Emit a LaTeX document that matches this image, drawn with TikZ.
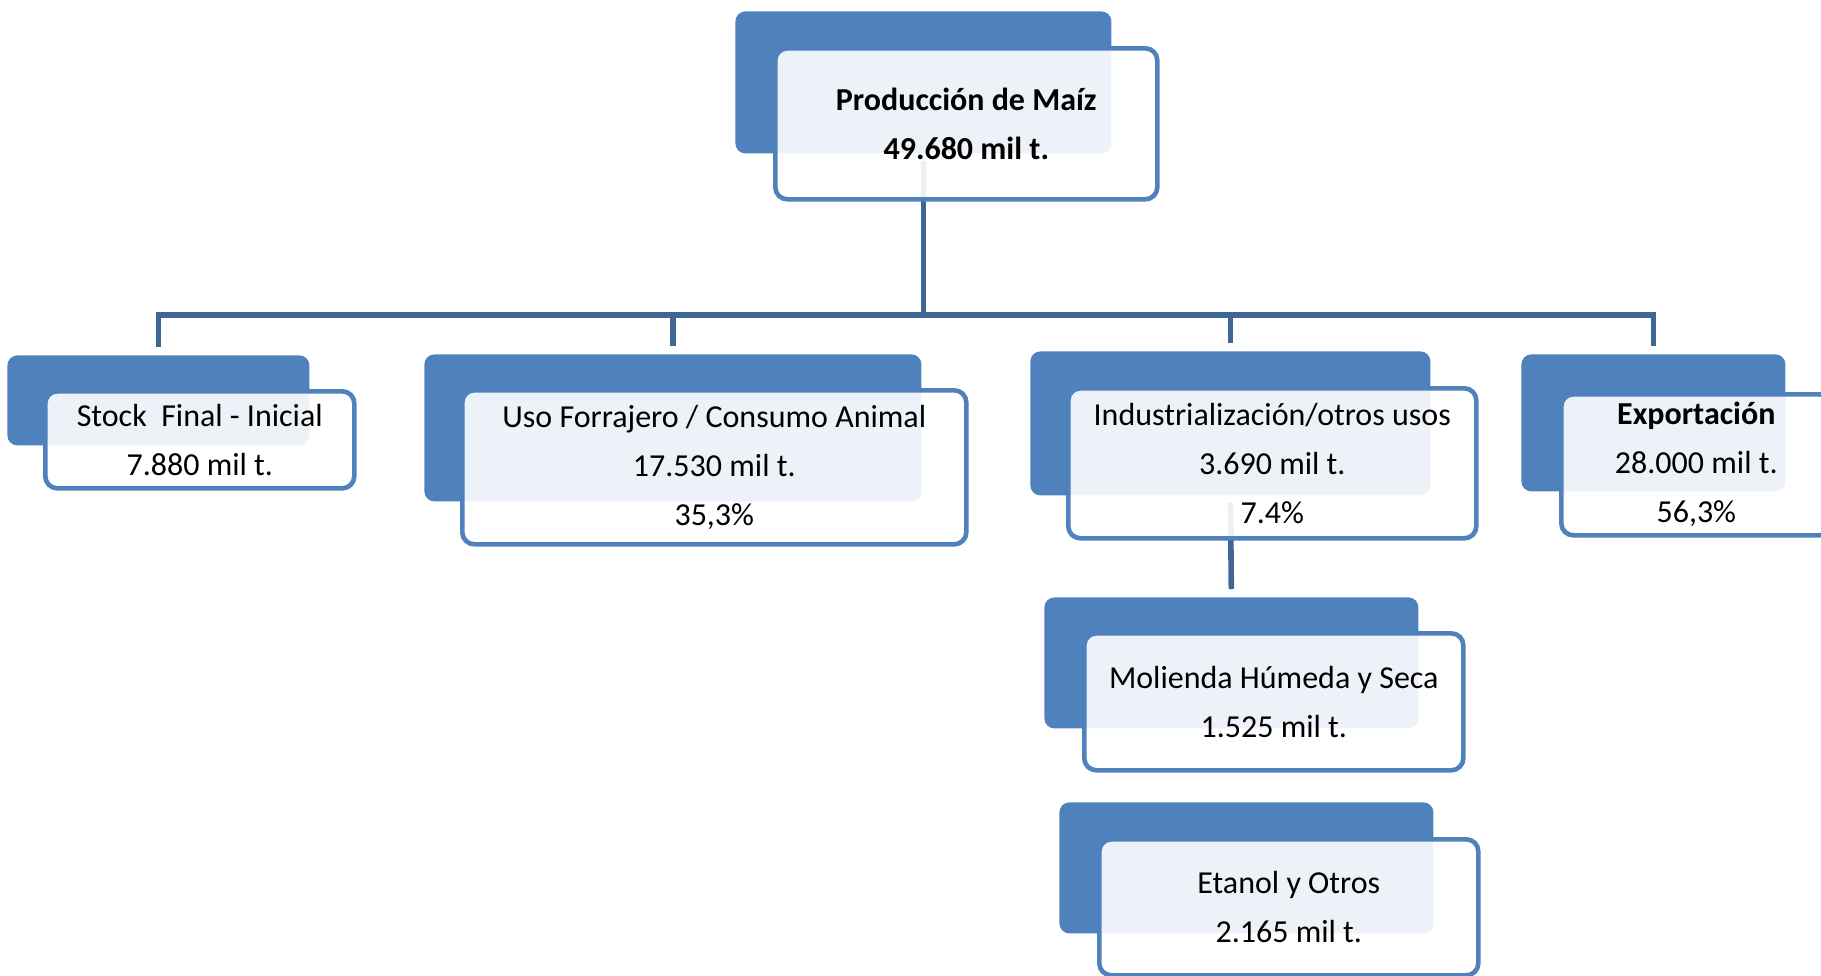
\documentclass[tikz,border=0pt]{standalone}
\usepackage{fontspec}
\setmainfont{Carlito}
\usetikzlibrary{positioning,calc}
\definecolor{azul}{RGB}{79,129,189}
\definecolor{azulosc}{RGB}{63,100,150}
\tikzset{
  fondo/.style={fill=azul, rounded corners=5pt, inner sep=0pt, anchor=north west},
  marco/.style={draw=azul, line width=2.3pt, fill=white, fill opacity=0.9, text opacity=1,
    rounded corners=6pt, inner sep=0pt, anchor=north west, align=center,
    font=\fontsize{16}{24.5}\selectfont},
  linea/.style={draw=azulosc, line width=2.8pt, shorten <=3.5pt, shorten >=4pt}
}
\begin{document}
\begin{tikzpicture}[x=0.5pt, y=-0.5pt]
\useasboundingbox (0,0) rectangle (1821,975);
\clip (0,0) rectangle (1821,975);
% fondos
\node[fondo, minimum width=188pt, minimum height=71pt] (fProd) at (735,11) {};
\node[fondo, minimum width=151pt, minimum height=45pt] (fStock) at (7,355) {};
\node[fondo, minimum width=248.5pt, minimum height=73.5pt] (fUso) at (424,354) {};
\node[fondo, minimum width=200pt, minimum height=72pt] (fInd) at (1030,351) {};
\node[fondo, minimum width=132pt, minimum height=68.5pt] (fExp) at (1521,354) {};
\node[fondo, minimum width=187pt, minimum height=65.5pt] (fMol) at (1044,597) {};
\node[fondo, minimum width=187pt, minimum height=65.5pt] (fEta) at (1059,802) {};
% conectores
\coordinate (bus) at (0,315);
\foreach \h in {fStock,fUso,fInd,fExp}
  \draw[linea] (fProd.south) |- (bus -| \h.north) -- (\h.north);
\draw[linea] (fInd.south) -- (fMol.north);
% marcos
\node[marco, minimum width=191pt, minimum height=75.5pt] (prod) at (773,46)
  {\textbf{Producción de Maíz}\\\textbf{49.680 mil t.}};
\node[marco, minimum width=154.5pt, minimum height=48.5pt] (stock) at (43,389)
  {Stock\ \ Final - Inicial\\7.880 mil t.};
\node[marco, minimum width=252pt, minimum height=77pt] (uso) at (460,388)
  {Uso Forrajero / Consumo Animal\\17.530 mil t.\\35,3\%};
\node[marco, minimum width=204pt, minimum height=75pt] (ind) at (1066,386)
  {Industrialización/otros usos\\3.690 mil t.\\7.4\%};
\node[marco, minimum width=135pt, minimum height=70.5pt] (exp) at (1559,392)
  {\textbf{Exportación}\\28.000 mil t.\\56,3\%};
\node[marco, minimum width=189.5pt, minimum height=68.5pt] (mol) at (1082,631)
  {Molienda Húmeda y Seca\\1.525 mil t.};
\node[marco, minimum width=189.5pt, minimum height=68pt] (eta) at (1097,837)
  {Etanol y Otros\\2.165 mil t.};
\end{tikzpicture}
\end{document}
